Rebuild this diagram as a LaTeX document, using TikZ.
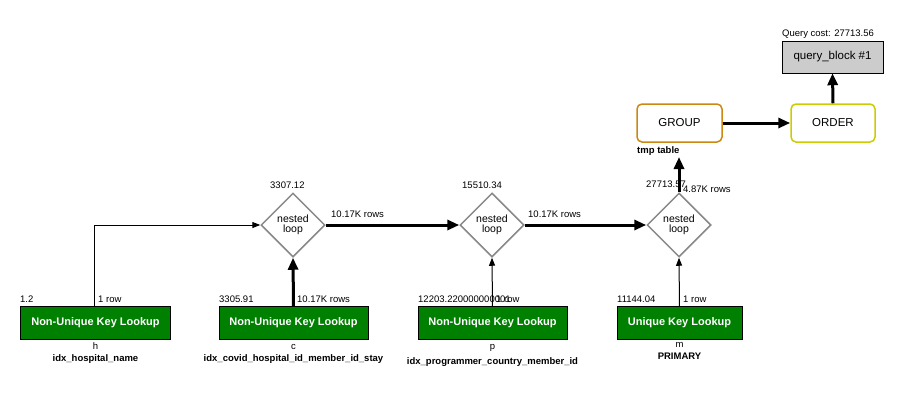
\documentclass[tikz,border=0pt]{standalone}
\usepackage{fontspec}
\setmainfont{Liberation Sans}
\usetikzlibrary{shapes.geometric,arrows.meta}
\definecolor{lookupgreen}{RGB}{0,128,0}
\definecolor{loopgray}{RGB}{136,136,136}
\definecolor{groupline}{RGB}{204,136,17}
\definecolor{orderline}{RGB}{204,204,0}
\definecolor{blockgray}{RGB}{204,204,204}
\begin{document}
\begin{tikzpicture}[x=1pt,y=1pt]
	\tikzstyle{every node}+=[inner sep=0pt]
	\tikzstyle{small}=[font=\fontsize{9.5}{11}\selectfont]
	\tikzstyle{smallbold}=[font=\fontsize{9.5}{11}\selectfont\bfseries]
	\tikzstyle{lookup}=[draw=black,fill=lookupgreen,text=white,minimum height=33,font=\fontsize{11}{13}\selectfont\bfseries]
	\tikzstyle{nloop}=[diamond,draw=loopgray,line width=1.5,fill=white,minimum width=64,minimum height=64,align=center,font=\fontsize{10.5}{10}\selectfont]
	\tikzstyle{opbox}=[rectangle,rounded corners=5,line width=1.5,minimum width=85,minimum height=38,font=\fontsize{11.5}{13}\selectfont]
	\tikzstyle{thin}=[line width=1,-{Triangle[length=8,width=6]}]
	\tikzstyle{fat}=[line width=3,-{Triangle[length=12,width=10]}]
	\useasboundingbox (0,0) rectangle (914,-418);
	% table lookups
	\node [lookup,minimum width=150] (h) at (95.5,-323) {Non-Unique Key Lookup};
	\node [lookup,minimum width=149] (c) at (293.5,-323) {Non-Unique Key Lookup};
	\node [lookup,minimum width=149] (p) at (492.5,-323) {Non-Unique Key Lookup};
	\node [lookup,minimum width=125] (m) at (679.5,-323) {Unique Key Lookup};
	\node [small,anchor=base] at (95.5,-349) {h};
	\node [smallbold,anchor=base] at (95.5,-361) {idx\_hospital\_name};
	\node [small,anchor=base] at (293.5,-349) {c};
	\node [smallbold,anchor=base] at (293.5,-361) {idx\_covid\_hospital\_id\_member\_id\_stay};
	\node [small,anchor=base] at (492.5,-349) {p};
	\node [smallbold,anchor=base] at (492.5,-364) {idx\_programmer\_country\_member\_id};
	\node [small,anchor=base] at (679.5,-347) {m};
	\node [smallbold,anchor=base] at (679.5,-359) {PRIMARY};
	% nested loops
	\node [nloop] (loopa) at (293,-225) {nested\\loop};
	\node [nloop] (loopb) at (492,-225) {nested\\loop};
	\node [nloop] (loopc) at (679,-225) {nested\\loop};
	% result operations
	\node [opbox,draw=groupline] (group) at (679.5,-123) {GROUP};
	\node [opbox,draw=orderline,minimum width=84] (order) at (833,-123) {ORDER};
	\node [draw=black,fill=blockgray,minimum width=101,minimum height=32,font=\fontsize{11.5}{13}\selectfont] (qblock) at (832.5,-57) {query\_block \#1};
	\node [smallbold,anchor=base west] (tmp) at (637,-153) {tmp table};
	\coordinate (tmpend) at (679,-157);
	\coordinate (hbend) at (94,-307);
	% connectors
	\draw [thin] (hbend) |- (loopa.west);
	\draw [fat] (c.north) -- (loopa.south);
	\draw [thin] (p.north) -- (loopb.south);
	\draw [thin] (m.north) -- (loopc.south);
	\draw [fat] (loopa.east) -- (loopb.west);
	\draw [fat] (loopb.east) -- (loopc.west);
	\draw [fat] (loopc.north) -- (tmpend);
	\draw [fat] (group.east) -- (order.west);
	\draw [fat] (order.north) -- (qblock.south);
	% costs and rows
	\node [small,anchor=base west] at (20,-302) {1.2};
	\node [small,anchor=base west] at (98,-302) {1 row};
	\node [small,anchor=base west] at (219,-302) {3305.91};
	\node [small,anchor=base west] at (297,-302) {10.17K rows};
	\node [small,anchor=base west] at (418,-302) {12203.220000000001};
	\node [small,anchor=base west] at (496,-302) {1 row};
	\node [small,anchor=base west] at (617,-302) {11144.04};
	\node [small,anchor=base west] at (683,-302) {1 row};
	\node [small,anchor=base west] at (270,-188) {3307.12};
	\node [small,anchor=base west] at (331,-217) {10.17K rows};
	\node [small,anchor=base west] at (462,-188) {15510.34};
	\node [small,anchor=base west] at (528,-217) {10.17K rows};
	\node [small,anchor=base west] at (646,-187) {27713.57};
	\node [small,anchor=base west] at (683,-192) {4.87K rows};
	\node [small,anchor=base west] at (782,-36) {Query cost: 27713.56};
\end{tikzpicture}
\end{document}
